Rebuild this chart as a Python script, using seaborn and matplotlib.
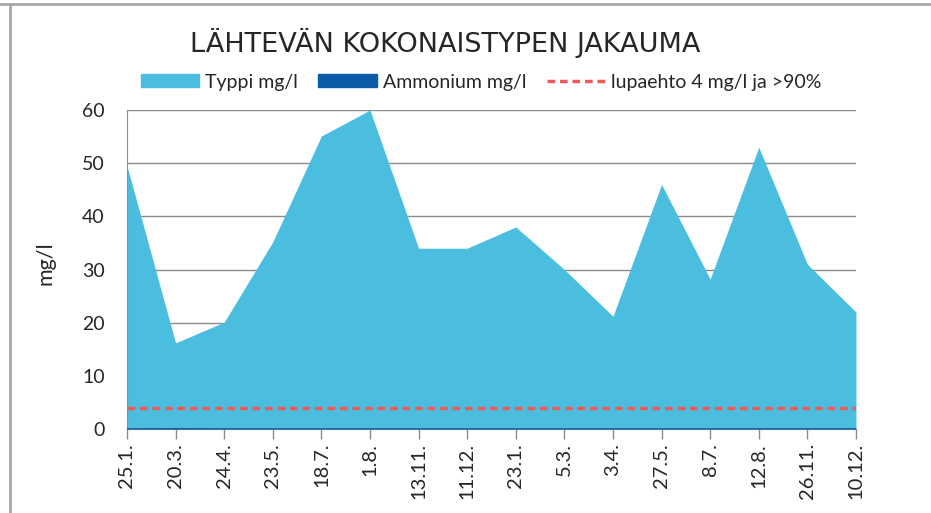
import numpy as np
import pandas as pd
import seaborn as sns
import matplotlib.pyplot as plt
from matplotlib.patches import Patch
from matplotlib.lines import Line2D

dates = ["25.1.", "20.3.", "24.4.", "23.5.", "18.7.", "1.8.", "13.11.", "11.12.",
         "23.1.", "5.3.", "3.4.", "27.5.", "8.7.", "12.8.", "26.11.", "10.12."]
typpi = [49.5, 16.2, 20.1, 35.2, 55.1, 60.0, 34.0, 34.0,
         38.0, 30.0, 21.2, 46.0, 28.2, 53.0, 31.0, 22.0]
ammonium = [0.1, 0.3, 0.1, 0.1, 0.1, 0.1, 0.1, 0.1,
            0.1, 0.1, 0.1, 0.1, 0.1, 0.1, 0.1, 0.1]
lupaehto = 4

c_typpi = "#4BBEDF"
c_amm = "#0B5BA6"
c_red = "#EE5A5A"
grid_c = "#8C8C8C"

df = pd.DataFrame({"pvm": dates, "Typpi": typpi, "Ammonium": ammonium})
df["i"] = np.arange(len(df))

sns.set_style("white")
plt.rcParams['font.family'] = ['Lato', 'DejaVu Sans']

fig = plt.figure(figsize=(9.31, 5.13), dpi=100)
ax = fig.add_axes([0.1364, 0.1637, 0.9194 - 0.1364, 0.7856 - 0.1637])

ax.fill_between(df["i"], 0, df["Typpi"], color=c_typpi, lw=0, zorder=2)
ax.fill_between(df["i"], 0, df["Ammonium"], color=c_amm, lw=0, zorder=3)
ax.axhline(0.05, color=c_amm, lw=1.2, zorder=3)
sns.lineplot(x=df["i"], y=[lupaehto] * len(df), ax=ax, color=c_red,
             lw=2.5, linestyle=(0, (2.2, 1.4)), zorder=4)

ax.set_xlim(0, len(df) - 1)
ax.set_ylim(0, 60)
ax.set_yticks(range(0, 61, 10))
ax.set_xticks(df["i"])
ax.set_xticklabels(dates, rotation=90, fontsize=14.5)
ax.tick_params(axis="y", labelsize=14, length=7, width=1, color=grid_c, pad=9)
ax.tick_params(axis="x", length=7, width=1, color=grid_c, pad=3, bottom=True)
ax.yaxis.grid(True, color=grid_c, lw=1)
ax.set_axisbelow(True)
for s in ["top", "right"]:
    ax.spines[s].set_visible(False)
ax.spines["left"].set_color(grid_c)
ax.spines["bottom"].set_color(grid_c)
ax.set_xlabel("")
ax.set_ylabel("mg/l", fontsize=15.5)
ax.yaxis.set_label_coords(-0.098, 0.52)

fig.text(0.478, 0.916, "LÄHTEVÄN KOKONAISTYPEN JAKAUMA", ha="center", va="center",
         fontsize=19.5, family=['DejaVu Sans'])

handles = [Patch(color=c_typpi), Patch(color=c_amm),
           Line2D([], [], color=c_red, lw=2.5, linestyle=(0, (2.2, 1.4)))]
labels = ["Typpi mg/l", "Ammonium mg/l", "lupaehto 4 mg/l ja >90%"]
fig.legend(handles, labels, loc="center", bbox_to_anchor=(0.5167, 0.84), ncol=3,
           frameon=False, fontsize=14, handlelength=3.0, handleheight=0.65,
           handletextpad=0.3, columnspacing=1.05)

# outer frame lines
fig.add_artist(Line2D([0, 1], [1 - 4 / 513] * 2, transform=fig.transFigure,
                      color="#A8A8A8", lw=2))
fig.add_artist(Line2D([9.5 / 931] * 2, [0, 1 - 4 / 513], transform=fig.transFigure,
                      color="#A8A8A8", lw=2))

fig.savefig("out.png", dpi=100, facecolor="white")
